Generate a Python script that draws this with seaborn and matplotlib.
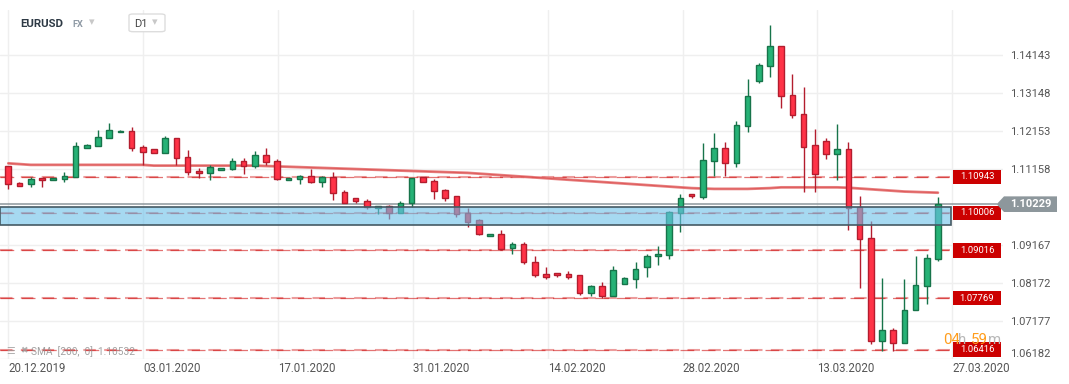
import numpy as np
import pandas as pd
import matplotlib.pyplot as plt
import seaborn as sns
from matplotlib.patches import Rectangle, Polygon, FancyBboxPatch
from matplotlib.transforms import blended_transform_factory
from matplotlib.colors import to_rgba

# EURUSD D1 candles
opens = [1.1124, 1.1078, 1.1076, 1.1091, 1.1085, 1.1088, 1.1093, 1.1170, 1.1176, 1.1197,
         1.1211, 1.1216, 1.1173, 1.1168, 1.1156, 1.1196, 1.1147, 1.1110, 1.1105, 1.1112,
         1.1115, 1.1136, 1.1122, 1.1152, 1.1136, 1.1085, 1.1088, 1.1096, 1.1080, 1.1094,
         1.1056, 1.1038, 1.1031, 1.1012, 1.1019, 1.1001, 1.1025, 1.1094, 1.1083, 1.1060,
         1.1044, 1.0999, 1.0981, 1.0939, 1.0944, 1.0907, 1.0918, 1.0871, 1.0839, 1.0842,
         1.0839, 1.0837, 1.0791, 1.0808, 1.0783, 1.0813, 1.0826, 1.0857, 1.0888, 1.0889,
         1.1000, 1.1049, 1.1043, 1.1137, 1.1170, 1.1131, 1.1227, 1.1345, 1.1385, 1.1437,
         1.1309, 1.1259, 1.1178, 1.1188, 1.1154, 1.1167, 1.1015, 1.0934, 1.0664, 1.0693,
         1.0659, 1.0745, 1.0809, 1.0879]
highs = [1.1124, 1.1082, 1.1095, 1.1091, 1.1092, 1.1108, 1.1187, 1.1180, 1.1218, 1.1236,
         1.1217, 1.1224, 1.1179, 1.1168, 1.1202, 1.1196, 1.1166, 1.1118, 1.1126, 1.1117,
         1.1144, 1.1143, 1.1162, 1.1170, 1.1141, 1.1091, 1.1099, 1.1115, 1.1097, 1.1108,
         1.1060, 1.1040, 1.1036, 1.1018, 1.1022, 1.1030, 1.1092, 1.1094, 1.1089, 1.1062,
         1.1044, 1.1014, 1.0985, 1.0944, 1.0955, 1.0924, 1.0924, 1.0886, 1.0858, 1.0842,
         1.0847, 1.0837, 1.0811, 1.0818, 1.0860, 1.0831, 1.0871, 1.0893, 1.0914, 1.1005,
         1.1049, 1.1049, 1.1182, 1.1210, 1.1186, 1.1241, 1.1351, 1.1392, 1.1493, 1.1437,
         1.1364, 1.1330, 1.1219, 1.1196, 1.1233, 1.1186, 1.1044, 1.0978, 1.0829, 1.0698,
         1.0826, 1.0887, 1.0891, 1.1041]
lows = [1.1064, 1.1070, 1.1069, 1.1069, 1.1085, 1.1080, 1.1093, 1.1169, 1.1176, 1.1197,
        1.1211, 1.1162, 1.1125, 1.1156, 1.1156, 1.1126, 1.1099, 1.1092, 1.1085, 1.1112,
        1.1112, 1.1103, 1.1117, 1.1126, 1.1085, 1.1085, 1.1076, 1.1078, 1.1069, 1.1034,
        1.1025, 1.1027, 1.1009, 1.0996, 1.0985, 1.1001, 1.1016, 1.1080, 1.1036, 1.1032,
        1.0990, 1.0964, 1.0941, 1.0939, 1.0904, 1.0892, 1.0865, 1.0833, 1.0828, 1.0833,
        1.0828, 1.0786, 1.0781, 1.0778, 1.0783, 1.0813, 1.0804, 1.0833, 1.0863, 1.0878,
        1.0951, 1.1038, 1.1037, 1.1097, 1.1097, 1.1120, 1.1212, 1.1340, 1.1356, 1.1275,
        1.1248, 1.1054, 1.1054, 1.1141, 1.1086, 1.0955, 1.0803, 1.0656, 1.0637, 1.0637,
        1.0659, 1.0745, 1.0761, 1.0873]
closes = [1.1076, 1.1071, 1.1090, 1.1085, 1.1091, 1.1097, 1.1176, 1.1179, 1.1199, 1.1218,
          1.1216, 1.1170, 1.1159, 1.1156, 1.1196, 1.1143, 1.1108, 1.1104, 1.1120, 1.1117,
          1.1136, 1.1122, 1.1152, 1.1134, 1.1090, 1.1091, 1.1096, 1.1080, 1.1094, 1.1052,
          1.1027, 1.1030, 1.1015, 1.1018, 1.1001, 1.1025, 1.1092, 1.1080, 1.1057, 1.1040,
          1.0996, 1.0977, 1.0944, 1.0944, 1.0906, 1.0918, 1.0871, 1.0836, 1.0833, 1.0836,
          1.0833, 1.0791, 1.0808, 1.0783, 1.0850, 1.0829, 1.0853, 1.0888, 1.0893, 1.1002,
          1.1038, 1.1044, 1.1140, 1.1170, 1.1131, 1.1230, 1.1306, 1.1387, 1.1437, 1.1306,
          1.1256, 1.1172, 1.1102, 1.1154, 1.1167, 1.1012, 1.0931, 1.0664, 1.0693, 1.0659,
          1.0745, 1.0811, 1.0881, 1.1023]
sma200 = [1.1130, 1.1128, 1.1126, 1.1126, 1.1126, 1.1126, 1.1126, 1.1126, 1.1126, 1.1126,
          1.1126, 1.1126, 1.1126, 1.1124, 1.1124, 1.1124, 1.1124, 1.1124, 1.1124, 1.1124,
          1.1124, 1.1124, 1.1124, 1.1123, 1.1122, 1.1121, 1.1120, 1.1119, 1.1118, 1.1117,
          1.1116, 1.1115, 1.1114, 1.1113, 1.1112, 1.1111, 1.1110, 1.1109, 1.1108, 1.1107,
          1.1106, 1.1105, 1.1103, 1.1101, 1.1099, 1.1097, 1.1095, 1.1093, 1.1091, 1.1089,
          1.1087, 1.1085, 1.1083, 1.1081, 1.1079, 1.1077, 1.1075, 1.1073, 1.1071, 1.1069,
          1.1067, 1.1065, 1.1064, 1.1063, 1.1063, 1.1063, 1.1063, 1.1064, 1.1065, 1.1067,
          1.1067, 1.1067, 1.1067, 1.1067, 1.1067, 1.1066, 1.1064, 1.1062, 1.1060, 1.1058,
          1.1056, 1.1055, 1.1054, 1.1053]

levels = [1.10943, 1.10006, 1.09016, 1.07769, 1.06416]
zone_low, zone_high = 1.0968, 1.1015
last_price = 1.10229
date_labels = ['20.12.2019', '03.01.2020', '17.01.2020', '31.01.2020',
               '14.02.2020', '28.02.2020', '13.03.2020', '27.03.2020']
price_ticks = [1.06182, 1.07177, 1.08172, 1.09167, 1.10162, 1.11158, 1.12153, 1.13148, 1.14143]

df = pd.DataFrame({'open': opens, 'high': highs, 'low': lows, 'close': closes, 'sma': sma200})
df['idx'] = np.arange(len(df))
up = df['close'] >= df['open']

sns.set_style('white')
plt.rcParams['font.family'] = ['Roboto', 'DejaVu Sans']

W, H = 1069, 384
fig = plt.figure(figsize=(W / 100, H / 100), dpi=100)
ax = fig.add_axes([0, 25 / H, 1003 / W, 349 / H])
ax.set_xlim(-0.741, 88.81)
ax.set_ylim(1.0617, 1.1532)

def fy(py):
    return 1 - py / H

# grid
ax.set_axisbelow(True)
ax.grid(True, color='#efefef', lw=1)
for s in ax.spines.values():
    s.set_visible(False)

# SMA 200
sns.lineplot(data=df, x='idx', y='sma', ax=ax, color='#e57373', lw=2.0, alpha=0.9, zorder=2)
sns.lineplot(data=df, x='idx', y='sma', ax=ax, color='#cc0000', lw=0.7, alpha=0.3, zorder=2)

# levels
for lv in levels:
    ax.axhline(lv, xmin=0, xmax=953 / 1003, color='#e57373', lw=1.5, alpha=0.7,
               ls=(0, (6, 4)), zorder=1.5)
    ax.axhline(lv, xmin=0, xmax=953 / 1003, color='#cc0000', lw=0.9, alpha=0.55,
               ls=(0, (11, 6)), zorder=1.6)
ax.axhline(last_price, xmin=0, xmax=997 / 1003, color='#8d979c', lw=1.1, zorder=2)

# candles
fill = np.where(up, '#26b276', '#ff3347')
edge = np.where(up, '#17744a', '#b31d2e')
body_lo = np.minimum(df['open'], df['close'])
body_h = np.maximum((df['close'] - df['open']).abs(), 0.00018)
ax.vlines(df['idx'], df['low'], df['high'], colors=edge, lw=1.0, zorder=3)
ax.bar(df['idx'], body_h, bottom=body_lo, width=0.5, color=fill, edgecolor=edge, lw=1.0, zorder=4)

# zone
bt = blended_transform_factory(ax.transAxes, ax.transData)
ax.add_patch(Rectangle((0, zone_low), 950.7 / 1003, zone_high - zone_low, transform=bt,
                       facecolor=to_rgba('#6bc0e9', 0.6), edgecolor='#455a64', lw=1.2, zorder=5))

# right side price labels
ft = blended_transform_factory(fig.transFigure, ax.transData)
for lv in levels:
    ax.add_patch(Rectangle((953 / W, lv - 0.00188), 48 / W, 0.00375, transform=ft,
                           facecolor='#cc0000', edgecolor='none', clip_on=False, zorder=6))
    ax.text(977 / W, lv, f'{lv:.5f}', transform=ft, ha='center', va='center',
            color='white', fontsize=6.8, clip_on=False, zorder=7)

tag = Polygon([(996.7 / W, last_price), (1004 / W, last_price + 0.00205),
               (1057 / W, last_price + 0.00205), (1057 / W, last_price - 0.00205),
               (1004 / W, last_price - 0.00205)], closed=True, transform=ft,
              facecolor='#8d979c', edgecolor='none', clip_on=False, zorder=8)
ax.add_patch(tag)
ax.text(1031 / W, last_price, f'{last_price:.5f}', transform=ft, ha='center', va='center',
        color='white', fontsize=8, fontweight='bold', clip_on=False, zorder=9)

# ticks
ax.set_xticks(np.arange(8) * 12.04)
ax.set_xticklabels(date_labels, ha='left')
ax.tick_params(axis='x', length=0, pad=2, labelsize=8.3, labelcolor='#555555')
ax.yaxis.tick_right()
ax.set_yticks(price_ticks)
ax.set_yticklabels(['' if abs(p - 1.10162) < 1e-6 else f'{p:.5f}' for p in price_ticks])
ax.tick_params(axis='y', length=0, pad=5, labelsize=8, labelcolor='#555555')
ax.get_yticklabels()[0].set_va('bottom')
ax.set_xlabel('')
ax.set_ylabel('')

# header
fig.text(20.5 / W, fy(23.7), 'EURUSD', fontsize=8.2, fontweight='bold', color='#2e3a45', va='center')
fig.text(72 / W, fy(24.3), 'FX', fontsize=6.6, fontweight='bold', color='#8f9aa5', va='center')
fig.text(89 / W, fy(22), '▾', fontsize=8, color='#c8c8c8', va='center', family=['DejaVu Sans'])
fig.add_artist(FancyBboxPatch((129 / W, fy(31.7)), 36 / W, 17.7 / H,
                              boxstyle='round,pad=0,rounding_size=0.004',
                              transform=fig.transFigure, facecolor='white', edgecolor='#dddddd', lw=1))
fig.text(134.5 / W, fy(23.8), 'D1', fontsize=8, color='#444444', va='center')
fig.text(151.5 / W, fy(22.5), '▾', fontsize=8, color='#c8c8c8', va='center', family=['DejaVu Sans'])

# sma legend
fig.text(6 / W, fy(351.5), '☰', fontsize=7, color='#9e9e9e', va='center', family=['DejaVu Sans'], alpha=0.8)
fig.text(20 / W, fy(351), '✖', fontsize=6.5, color='#9e9e9e', va='center', family=['DejaVu Sans'], alpha=0.8)
fig.text(31 / W, fy(352), 'SMA  [200,  0]  1.10532', fontsize=7.3, color='#8c8c8c', va='center', alpha=0.8)

# countdown
orange, grey = '#ff9d1c', '#b8b8b8'
fig.text(942.7 / W, fy(339.5), '04', fontsize=10.8, color=orange, va='center')
fig.text(958.3 / W, fy(339.5), 'h', fontsize=10.8, color=grey, va='center')
fig.text(971.3 / W, fy(339.5), '59', fontsize=10.8, color=orange, va='center')
fig.text(987.8 / W, fy(339.5), 'm', fontsize=10.8, color=grey, va='center')

fig.savefig('out.png', dpi=100)
